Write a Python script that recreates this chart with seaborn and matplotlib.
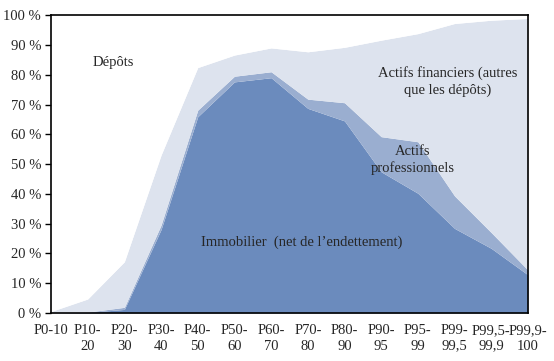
import numpy as np
import matplotlib
matplotlib.use("Agg")
import matplotlib.pyplot as plt
import seaborn as sns

categories = ["P0-10", "P10-\n20", "P20-\n30", "P30-\n40", "P40-\n50", "P50-\n60",
              "P60-\n70", "P70-\n80", "P80-\n90", "P90-\n95", "P95-\n99",
              "P99-\n99,5", "P99,5-\n99,9", "P99,9-\n100"]
immobilier = [0.0, 0.2, 1.2, 28.0, 65.9, 77.6, 79.0, 68.7, 64.5, 47.4, 40.2, 28.4, 21.7, 12.8]
professionnels = [0.0, 0.1, 0.7, 1.5, 2.2, 1.9, 2.0, 3.1, 6.1, 11.8, 17.3, 10.9, 5.3, 1.6]
financiers = [0.5, 4.4, 15.3, 23.5, 14.3, 7.1, 8.0, 15.9, 18.6, 32.4, 36.3, 57.9, 71.3, 84.5]
yticks = [0, 10, 20, 30, 40, 50, 60, 70, 80, 90, 100]
ytick_labels = [f"{v} %" for v in yticks]

sns.set_theme(style="white")
plt.rcParams["font.family"] = ["Liberation Serif", "DejaVu Serif"]

fig = plt.figure(figsize=(5.54, 3.61), dpi=100)
ax = fig.add_axes([0.092, 0.133, 0.861, 0.825])

x = np.arange(len(categories))
depots = 100 - (np.array(immobilier) + np.array(professionnels) + np.array(financiers))
ax.stackplot(x, immobilier, professionnels, financiers, depots,
             colors=["#6b8bbd", "#9aaed0", "#dde3ee", "#ffffff"], linewidth=0)

ax.set_xlim(0, len(categories) - 1)
ax.set_ylim(0, 100)
ax.set_xticks(x)
ax.set_xticklabels(categories, fontsize=10.5, linespacing=1.25)
ax.set_yticks(yticks)
ax.set_yticklabels(ytick_labels, fontsize=10.5)
ax.tick_params(axis="y", length=4, width=1, color="black", direction="out", pad=3, left=True)
ax.tick_params(axis="x", length=0, pad=8)
for s in ax.spines.values():
    s.set_color("black")
    s.set_linewidth(1.2)
    s.set_visible(True)

fs = 10.5
ax.text(1.69, 84.2, "Dépôts", ha="center", va="center", fontsize=fs)
ax.text(10.82, 77.7, "Actifs financiers (autres\nque les dépôts)", ha="center", va="center",
        fontsize=fs, linespacing=1.3)
ax.text(9.86, 51.3, "Actifs\nprofessionnels", ha="center", va="center", fontsize=fs, linespacing=1.3)
ax.text(6.84, 23.9, "Immobilier  (net de l\u2019endettement)", ha="center", va="center", fontsize=fs)

fig.savefig("out.png", dpi=100)
